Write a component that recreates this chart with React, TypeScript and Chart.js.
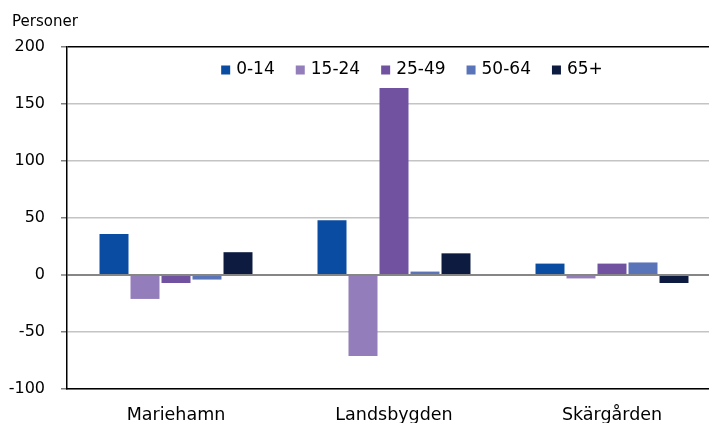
import React, { useEffect, useRef } from "react";
import { Chart, registerables } from "chart.js";

Chart.register(...registerables);

const categories = ["Mariehamn", "Landsbygden", "Skärgården"];
const seriesLabels = ["0-14", "15-24", "25-49", "50-64", "65+"];
const age0to14 = [36, 48, 10];
const age15to24 = [-21, -71, -3];
const age25to49 = [-7, 164, 10];
const age50to64 = [-4, 3, 11];
const age65plus = [20, 19, -7];
const seriesColors = ["#0a4ca1", "#937dbb", "#7052a1", "#5a74b9", "#0e1b41"];
const yTitle = "Personer";

const FONT = "'DejaVu Sans', sans-serif";

const overlayPlugin = {
  id: "overlay",
  afterDraw(chart: any) {
    const ctx = chart.ctx;
    ctx.save();
    // Axis title
    ctx.fillStyle = "#000";
    ctx.font = `15px ${FONT}`;
    ctx.textBaseline = "middle";
    ctx.textAlign = "left";
    ctx.fillText(yTitle, 12, 22);
    // Legend
    ctx.font = `17px ${FONT}`;
    ctx.textBaseline = "alphabetic";
    const box = 9;
    const boxGap = 6;
    const itemGap = 21;
    const datasets = chart.data.datasets;
    const widths = datasets.map((d: any) => ctx.measureText(d.label).width);
    const total =
      widths.reduce((a: number, w: number) => a + w + box + boxGap, 0) +
      itemGap * (datasets.length - 1);
    let x = 412 - total / 2;
    const baseY = 74;
    datasets.forEach((d: any, i: number) => {
      ctx.fillStyle = d.backgroundColor;
      ctx.fillRect(x, baseY - 8.5, box, box);
      ctx.fillStyle = "#000";
      ctx.fillText(d.label, x + box + boxGap, baseY);
      x += box + boxGap + widths[i] + itemGap;
    });
    ctx.restore();
  },
};

export default function App() {
  const canvasRef = useRef<HTMLCanvasElement | null>(null);

  useEffect(() => {
    if (!canvasRef.current) return;
    const values = [age0to14, age15to24, age25to49, age50to64, age65plus];
    const chart = new Chart(canvasRef.current, {
      type: "bar",
      data: {
        labels: categories,
        datasets: seriesLabels.map((label, i) => ({
          label,
          data: values[i],
          backgroundColor: seriesColors[i],
          borderWidth: 0,
          categoryPercentage: 0.711,
          barPercentage: 0.935,
        })),
      },
      options: {
        animation: false,
        responsive: true,
        maintainAspectRatio: false,
        devicePixelRatio: 1,
        layout: { padding: { top: 47, right: 9, left: 0, bottom: 0 } },
        plugins: {
          legend: { display: false },
          tooltip: { enabled: false },
        },
        scales: {
          x: {
            grid: { display: false, drawTicks: false },
            border: { display: true, color: "#000", width: 1.5 },
            ticks: {
              font: { family: FONT, size: 17.5 },
              color: "#000",
              padding: 16,
            },
            afterFit: (scale: any) => {
              scale.height = 34;
            },
          },
          y: {
            min: -100,
            max: 200,
            ticks: {
              stepSize: 50,
              font: { family: FONT, size: 16 },
              color: "#000",
              padding: 16,
            },
            grid: {
              color: (c: any) => {
                const v = c.tick && c.tick.value;
                if (v === 200) return "#000";
                if (v === 0) return "#868686";
                return "#c4c4c4";
              },
              lineWidth: (c: any) => {
                const v = c.tick && c.tick.value;
                if (v === 0) return 2;
                return 1.5;
              },
              tickLength: 6,
              tickColor: "#7f7f7f",
              tickWidth: 1.5,
            },
            border: { display: true, color: "#000", width: 1.5 },
            afterFit: (scale: any) => {
              scale.width = 67;
            },
          },
        },
      },
      plugins: [overlayPlugin],
    });
    return () => chart.destroy();
  }, []);

  return (
    <div
      style={{
        position: "absolute",
        left: 0,
        top: 0,
        width: 709,
        height: 423,
        overflow: "hidden",
        background: "#fff",
      }}
    >
      <div style={{ position: "relative", width: 730, height: 423 }}>
        <canvas ref={canvasRef} />
      </div>
    </div>
  );
}
